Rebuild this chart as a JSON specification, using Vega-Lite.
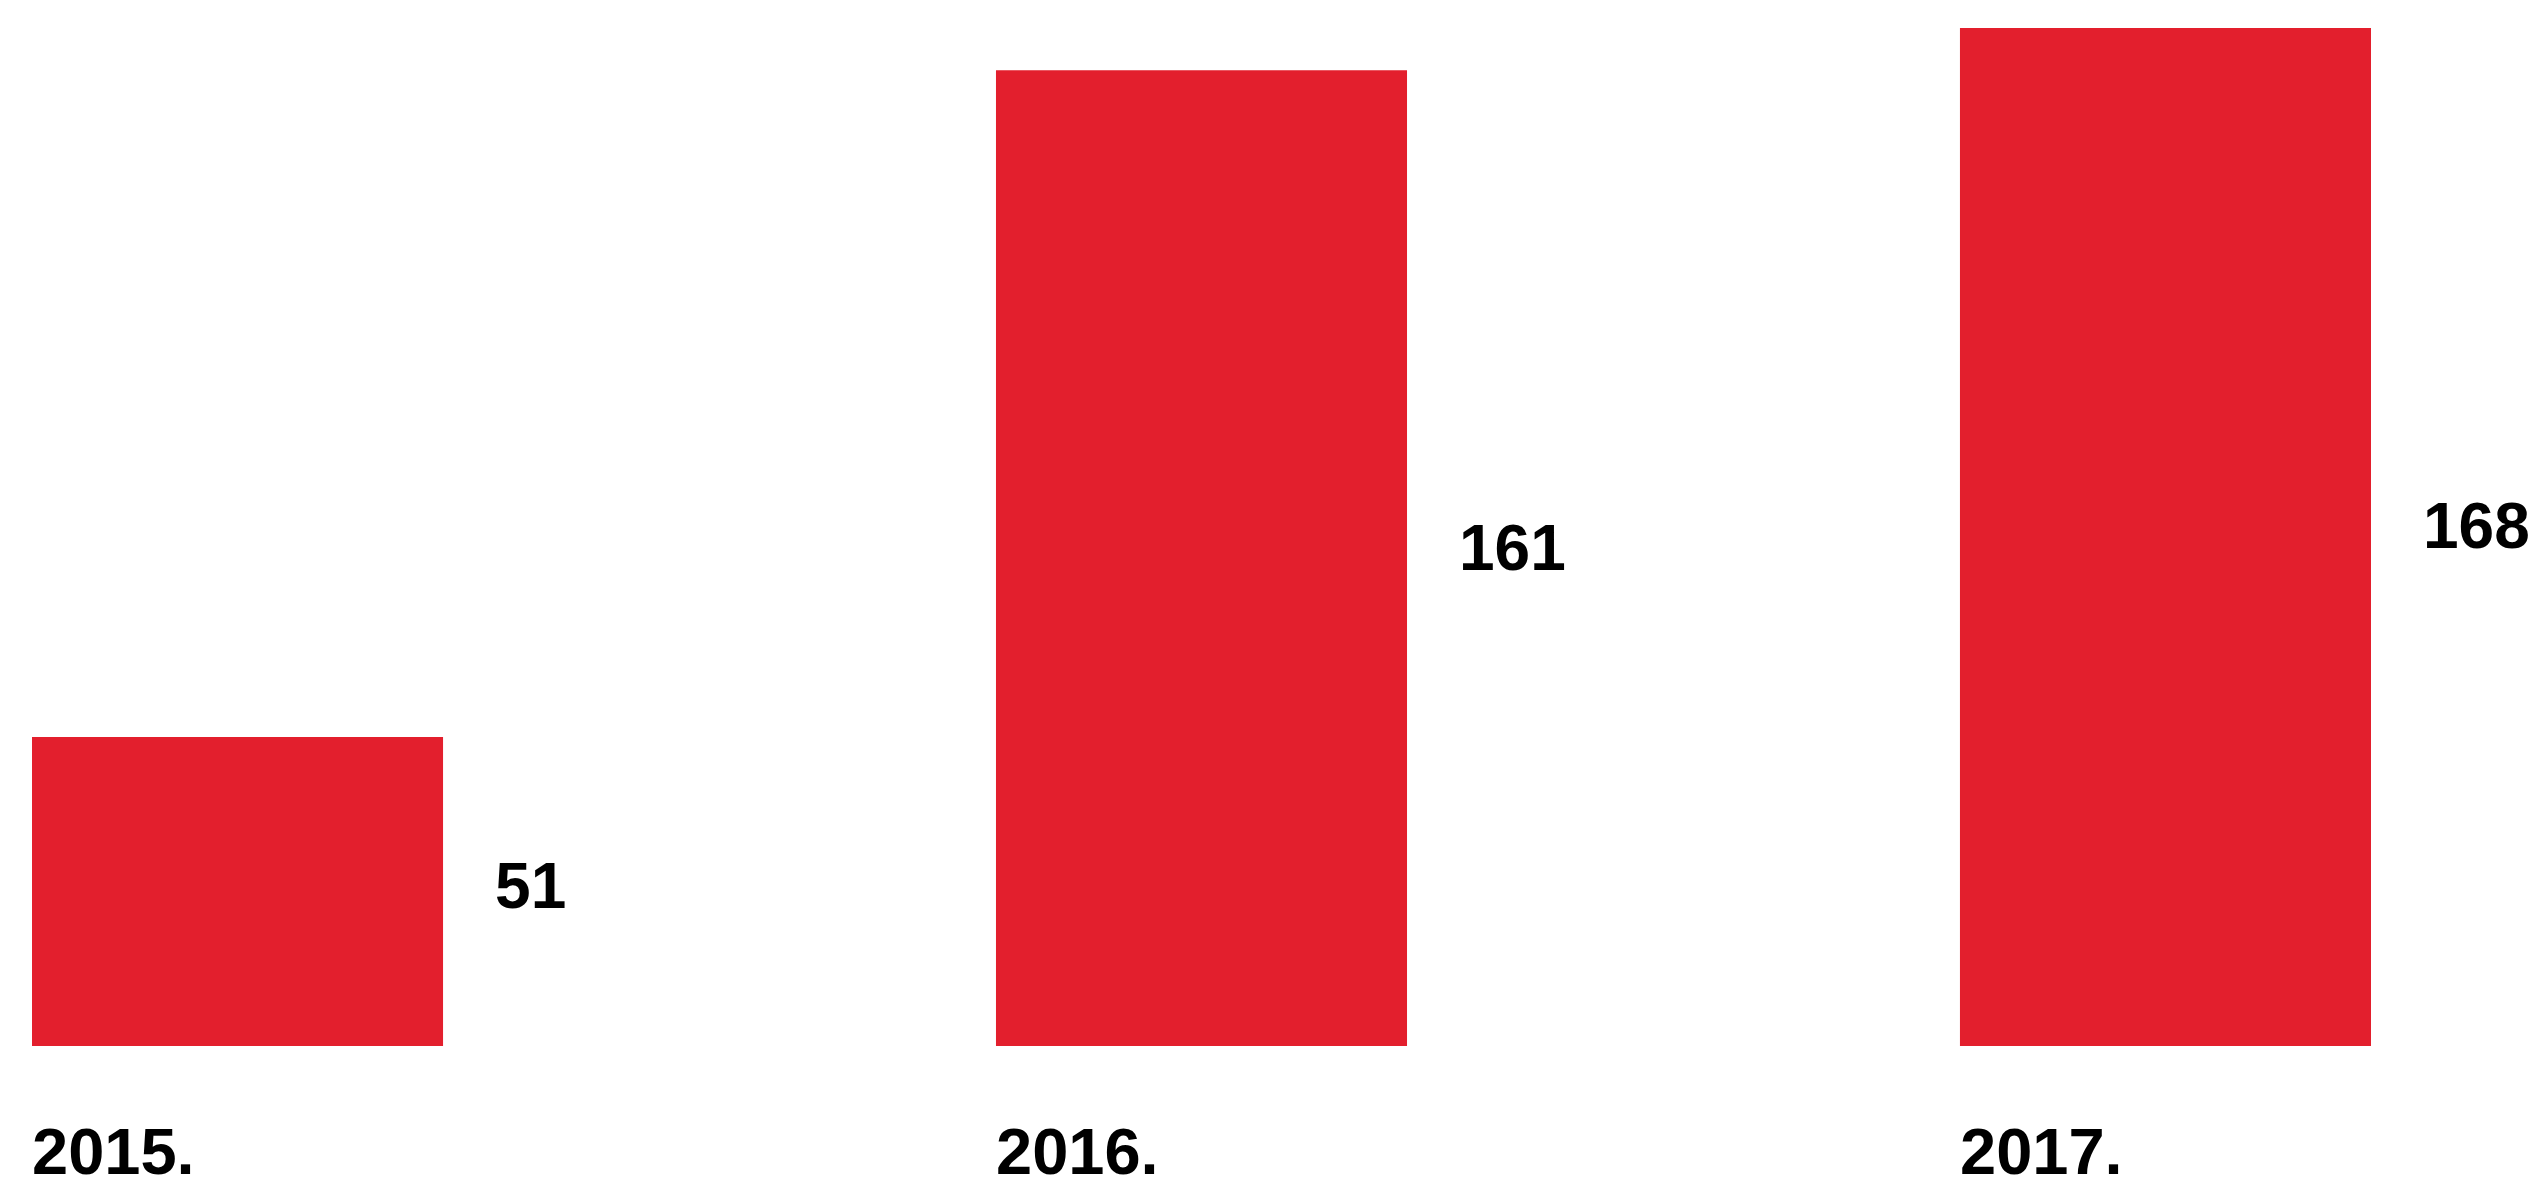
{
  "$schema": "https://vega.github.io/schema/vega-lite/v6.json",
  "width": 2403,
  "height": 1046,
  "padding": {"left": 0, "top": 0, "right": 0, "bottom": 0},
  "background": "white",
  "config": {"view": {"stroke": null}},
  "data": {"values": [
    {"year": "2015", "value": 51},
    {"year": "2016", "value": 161},
    {"year": "2017", "value": 168}
  ]},
  "encoding": {
    "x": {
      "field": "year", "type": "nominal",
      "scale": {"paddingInner": 0.5736, "paddingOuter": 0.0332},
      "axis": {
        "title": null, "domain": false, "ticks": false, "tickSize": 0,
        "labelAlign": "left", "labelAngle": 0, "labelOffset": -205.5,
        "labelBaseline": "alphabetic", "labelPadding": 127,
        "labelFont": "Liberation Sans", "labelFontSize": 65, "labelFontWeight": "bold",
        "labelColor": "#000000", "labelExpr": "datum.label + '.'"
      }
    }
  },
  "layer": [
    {
      "mark": {"type": "bar", "color": "#e31f2d"},
      "encoding": {
        "y": {"field": "value", "type": "quantitative", "scale": {"domain": [0, 172.6], "nice": false}, "axis": null}
      }
    },
    {
      "mark": {"type": "text", "align": "left", "baseline": "middle", "dx": 52, "font": "Liberation Sans", "fontSize": 64, "fontWeight": "bold", "color": "#000000"},
      "encoding": {
        "x": {"field": "year", "type": "nominal", "bandPosition": 1},
        "y": {"field": "value", "type": "quantitative", "scale": {"domain": [0, 340], "nice": false}, "axis": null},
        "text": {"field": "value", "type": "quantitative"}
      }
    }
  ],
  "resolve": {"scale": {"y": "independent"}}
}
